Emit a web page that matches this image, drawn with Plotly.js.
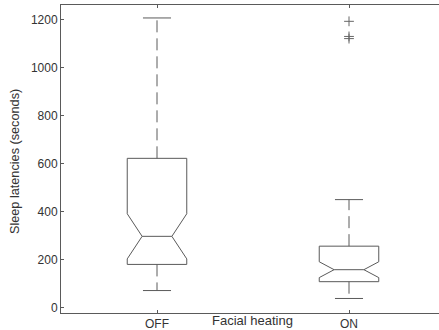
<!DOCTYPE html>
<html>
<head>
<meta charset="utf-8">
<script src="https://cdn.plot.ly/plotly-3.0.1.min.js"></script>
<style>html,body{margin:0;padding:0;background:#fff;overflow:hidden;}#wrap{width:439px;height:330px;overflow:hidden;}#chart{width:445px;height:330px;}</style>
</head>
<body>
<div id="wrap"><div id="chart"></div></div>
<script>
// ---- data ----
const groups = ['OFF', 'ON'];
const q1 = [180, 108];
const medians = [297, 158];
const q3 = [622, 256];
const lowerWhisker = [71, 38];
const upperWhisker = [1207, 450];
const notchSpan = [94, 33];
const outlierGroup = ['ON', 'ON', 'ON'];
const outlierValues = [1193, 1130, 1121];
const yTicks = [0, 200, 400, 600, 800, 1000, 1200];

// ---- styling ----
const lineCol = '#5a5a5a';
const textCol = '#333333';
const fontFam = '"Liberation Sans", Arial, sans-serif';
const capHalf = 0.073;

const pos = groups.map((g, i) => i + 1);
const posOf = g => pos[groups.indexOf(g)];

const traces = [];

// notched boxes (whiskers drawn separately as dashed lines)
traces.push({
  type: 'box',
  x: pos,
  q1: q1,
  median: medians,
  q3: q3,
  lowerfence: q1,
  upperfence: q3,
  notched: true,
  notchspan: notchSpan,
  notchwidth: 0.25,
  whiskerwidth: 0,
  width: 0.31,
  boxpoints: false,
  line: {color: lineCol, width: 1},
  fillcolor: 'rgba(0,0,0,0)',
  hoverinfo: 'skip',
  showlegend: false
});

// dashed whiskers
const wx = [], wy = [];
pos.forEach((p, i) => {
  wx.push(p, p, null, p, p, null);
  wy.push(q3[i], upperWhisker[i], null, q1[i], lowerWhisker[i], null);
});
traces.push({
  type: 'scatter', mode: 'lines', x: wx, y: wy,
  line: {color: lineCol, width: 1, dash: '12px,6px'},
  hoverinfo: 'skip', showlegend: false
});

// whisker caps
const cx = [], cy = [];
pos.forEach((p, i) => {
  cx.push(p - capHalf, p + capHalf, null, p - capHalf, p + capHalf, null);
  cy.push(upperWhisker[i], upperWhisker[i], null, lowerWhisker[i], lowerWhisker[i], null);
});
traces.push({
  type: 'scatter', mode: 'lines', x: cx, y: cy,
  line: {color: lineCol, width: 1},
  hoverinfo: 'skip', showlegend: false
});

// outliers
traces.push({
  type: 'scatter', mode: 'markers',
  x: outlierGroup.map(posOf), y: outlierValues,
  marker: {symbol: 'cross-thin', size: 7, line: {color: '#666', width: 1}, color: '#666'},
  hoverinfo: 'skip', showlegend: false
});

const layout = {
  width: 445, height: 330,
  margin: {l: 61, r: 0, t: 5, b: 17, pad: 0},
  paper_bgcolor: '#fff', plot_bgcolor: '#fff',
  font: {family: fontFam, color: textCol, size: 12},
  showlegend: false,
  xaxis: {
    range: [0.5, 2.5],
    tickvals: pos, ticktext: groups,
    ticks: 'inside', ticklen: 3, tickcolor: lineCol,
    showline: true, linecolor: lineCol, linewidth: 1, mirror: 'ticks',
    showgrid: false, zeroline: false,
    tickfont: {size: 12, color: textCol, family: fontFam}
  },
  yaxis: {
    range: [-22.5, 1261],
    tickvals: yTicks,
    ticks: 'inside', ticklen: 3, tickcolor: lineCol,
    showline: true, linecolor: lineCol, linewidth: 1,
    showgrid: false, zeroline: false,
    tickfont: {size: 12, color: textCol, family: fontFam}
  },
  annotations: [
    {text: 'Facial heating', xref: 'paper', yref: 'paper', x: (252 - 61) / 384, y: 0,
     xanchor: 'center', yanchor: 'middle', yshift: -7, showarrow: false,
     font: {size: 13, color: textCol, family: fontFam}},
    {text: 'Sleep latencies (seconds)', xref: 'paper', yref: 'paper', x: (15 - 61) / 384, y: 0.49,
     xanchor: 'center', yanchor: 'middle', textangle: -90, showarrow: false,
     font: {size: 12.7, color: textCol, family: fontFam}}
  ]
};

Plotly.newPlot('chart', traces, layout, {staticPlot: true, displayModeBar: false});
</script>
</body>
</html>
